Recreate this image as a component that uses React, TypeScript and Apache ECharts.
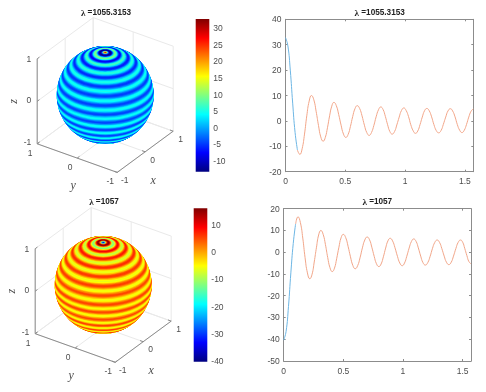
import React, { useEffect, useRef } from "react";
import * as echarts from "echarts";

const thetaA = [0,0.02,0.04,0.06,0.08,0.10,0.12,0.139,0.159,0.178,0.198,0.217,0.237,0.256,0.276,0.295,0.315,0.333,0.351,0.369,0.387,0.405,0.425,0.445,0.465,0.485,0.505,0.524,0.543,0.562,0.581,0.60,0.62,0.64,0.66,0.68,0.70,0.719,0.739,0.758,0.778,0.797,0.816,0.835,0.854,0.873,0.892,0.912,0.931,0.951,0.970,0.99,1.009,1.029,1.048,1.068,1.087,1.106,1.125,1.144,1.163,1.182,1.202,1.222,1.241,1.261,1.281,1.301,1.32,1.34,1.359,1.379,1.398,1.418,1.437,1.457,1.476,1.495,1.514,1.533,1.552,1.5708];
const valueA = [32.8,29.5,20,7,-4.5,-11.5,-13.2,-11,-5.2,2,7.8,10,8.3,3.8,-1.8,-6.3,-8,-6.5,-2.7,2,5.8,7.3,6,2.5,-1.7,-5.2,-6.5,-5.3,-2.2,1.7,4.8,6,4.9,2,-1.7,-4.6,-5.7,-4.6,-1.8,1.6,4.4,5.5,4.5,1.8,-1.5,-4.2,-5.2,-4.2,-1.6,1.5,4.1,5.1,4.1,1.7,-1.5,-3.9,-4.9,-4,-1.5,1.5,4,4.9,4,1.6,-1.4,-3.8,-4.7,-3.8,-1.4,1.5,3.9,4.8,3.9,1.6,-1.4,-3.7,-4.6,-3.7,-1.4,1.5,3.8,4.7];
const thetaB = [0,0.02,0.04,0.06,0.08,0.10,0.12,0.14,0.16,0.179,0.199,0.219,0.238,0.256,0.275,0.293,0.312,0.331,0.35,0.369,0.388,0.407,0.426,0.444,0.463,0.481,0.50,0.52,0.54,0.56,0.58,0.60,0.62,0.64,0.66,0.68,0.70,0.72,0.739,0.759,0.778,0.798,0.817,0.836,0.855,0.874,0.893,0.913,0.933,0.954,0.974,0.994,1.013,1.032,1.052,1.071,1.09,1.11,1.129,1.149,1.168,1.188,1.208,1.228,1.247,1.267,1.287,1.307,1.326,1.346,1.365,1.385,1.405,1.424,1.444,1.463,1.483,1.501,1.518,1.536,1.553,1.5708];
const valueB = [-40.4,-36.4,-25,-9.5,4,13,16.3,13.6,6.5,-2.4,-9.5,-12.2,-10.1,-4.5,2.3,7.9,10,8.2,3.5,-2.4,-7.1,-8.9,-7.3,-3,2.3,6.6,8.2,6.7,2.7,-2.1,-6.1,-7.6,-6.2,-2.6,2,5.6,7,5.7,2.3,-1.9,-5.3,-6.6,-5.4,-2.1,1.9,5.2,6.4,5.2,2.1,-1.9,-5,-6.2,-5,-1.9,1.9,4.9,6.1,5,2,-1.8,-4.8,-5.9,-4.8,-1.9,1.6,4.5,5.6,4.5,1.7,-1.8,-4.6,-5.7,-4.6,-1.8,1.7,4.5,5.6,4.6,1.8,-1.5,-4.3,-5.3];

const titleA = "1055.3153";
const titleB = "1057";
const lineTicksX = [0, 0.5, 1, 1.5];
const barTicksA = [-10, -5, 0, 5, 10, 15, 20, 25, 30];
const barTicksB = [-40, -30, -20, -10, 0, 10];
const ticks3D = [-1, 0, 1];
const jet = ["#000080", "#0000ff", "#0080ff", "#00ffff", "#80ff80", "#ffff00", "#ff8000", "#ff0000", "#800000"];

const BLUE = "#6db6e4";
const ORANGE = "#f2a689";
const TEXT = "#4d4d4d";
const AXIS = "#8c8c8c";
const FONT = '"Liberation Sans", Arial, sans-serif';
const R = 48.5;
const SPLIT = 0.1;

// oblique view of the unit box, in sphere radii
const project = (x: number, y: number, z: number) => [
  (x * 28 - y * 40) / R,
  (x * 20.6 + y * 14.3 + z * 42.5) / R,
];

function discs(theta: number[], value: number[]) {
  const out: number[][] = [];
  for (let i = 1; i < theta.length; i++) out.push([0, (-Math.cos(theta[i]) * 42.5) / R, Math.sin(theta[i]), value[i]]);
  for (let i = theta.length - 1; i >= 1; i--) out.push([0, (Math.cos(theta[i]) * 42.5) / R, Math.sin(theta[i]), value[i]]);
  return out;
}

function boxSegments() {
  const s: number[][] = [];
  for (const t of ticks3D) {
    s.push([t, -1, -1, t, 1, -1, 0], [-1, t, -1, 1, t, -1, 0]); // floor
    s.push([1, t, -1, 1, t, 1, 0], [1, -1, t, 1, 1, t, 0]); // wall x=1
    s.push([t, 1, -1, t, 1, 1, 0], [-1, 1, t, 1, 1, t, 0]); // wall y=1
  }
  s.push([-1, 1, -1, -1, 1, 1, 1], [-1, 1, -1, -1, -1, -1, 1], [-1, -1, -1, 1, -1, -1, 1]);
  for (const t of ticks3D) {
    s.push([-1, 1, t, -0.92, 1, t, 1], [-1, t, -1, -0.92, t, -1, 1], [t, -1, -1, t, -0.92, -1, 1]);
  }
  return s;
}

function label3D() {
  const l: { p: number[]; text: string; dx: number; dy: number; align: string; font: string; rot?: number }[] = [];
  const f = `8.5px ${FONT}`;
  const serif = 'italic 12px "Liberation Serif", serif';
  for (const t of ticks3D) {
    l.push({ p: [-1, 1, t], text: String(t), dx: -6, dy: t === -1 ? -2 : t === 0 ? -1 : 0, align: "right", font: f });
    l.push({ p: [-1, t, -1], text: String(t), dx: -7, dy: 8.8, align: "center", font: f });
    l.push({ p: [t, -1, -1], text: String(t), dx: 7.5, dy: 7.7, align: "center", font: f });
  }
  l.push({ p: [0, -1, -1], text: "x", dx: 8, dy: 28, align: "center", font: serif });
  l.push({ p: [-1, 0, -1], text: "y", dx: -4, dy: 26.5, align: "center", font: serif });
  l.push({ p: [-1, 1, 0], text: "z", dx: -24, dy: 0, align: "center", font: serif, rot: Math.PI / 2 });
  return l;
}

function titleOf(cx: number, top: number, num: string) {
  return {
    text: `{l|λ}{b| =${num}}`,
    left: cx,
    top,
    textAlign: "center",
    padding: 0,
    textStyle: {
      rich: {
        l: { fontFamily: '"Liberation Serif", serif', fontSize: 9, color: "#222" },
        b: { fontFamily: FONT, fontSize: 8.2, fontWeight: "bold", color: "#222" },
      },
    },
  };
}

function buildOption() {
  const grid: any[] = [];
  const xAxis: any[] = [];
  const yAxis: any[] = [];
  const series: any[] = [];
  const visualMap: any[] = [];

  const addLine = (L: number, T: number, Rt: number, B: number, yMin: number, yMax: number, xs: number[], ys: number[]) => {
    const g = grid.length;
    grid.push({ left: L, top: T, width: Rt - L, height: B - T });
    const xBase = { type: "value", gridIndex: g, min: 0, max: 1.5708, splitLine: { show: false }, axisLine: { show: true, onZero: false, lineStyle: { color: AXIS, width: 1 } }, axisTick: { show: true, inside: true, length: 2, lineStyle: { color: AXIS }, customValues: lineTicksX } };
    const xi = xAxis.length;
    xAxis.push({ ...xBase, position: "bottom", axisLabel: { customValues: lineTicksX, color: TEXT, fontSize: 8.5, fontFamily: FONT, margin: 5 } });
    xAxis.push({ ...xBase, position: "top", axisLabel: { show: false } });
    const yBase = { type: "value", gridIndex: g, min: yMin, max: yMax, interval: 10, splitLine: { show: false }, axisLine: { show: true, onZero: false, lineStyle: { color: AXIS, width: 1 } }, axisTick: { show: true, inside: true, length: 2, lineStyle: { color: AXIS } } };
    const yi = yAxis.length;
    yAxis.push({ ...yBase, position: "left", axisLabel: { color: TEXT, fontSize: 8.5, fontFamily: FONT, margin: 4 } });
    yAxis.push({ ...yBase, position: "right", axisLabel: { show: false } });
    const pts = xs.map((x, i) => [x, ys[i]]);
    const common = { type: "line", xAxisIndex: xi, yAxisIndex: yi, symbol: "none", smooth: true, z: 3 };
    series.push({ ...common, data: pts.filter((p) => p[0] <= SPLIT), lineStyle: { color: BLUE, width: 1 } });
    series.push({ ...common, data: pts.filter((p) => p[0] >= SPLIT), lineStyle: { color: ORANGE, width: 1 } });
  };

  const addBar = (L: number, T: number, H: number, vMin: number, vMax: number, ticks: number[]) => {
    const g = grid.length;
    grid.push({ left: L, top: T, width: 13.6, height: H });
    const xi = xAxis.length;
    xAxis.push({ type: "value", gridIndex: g, min: 0, max: 1, show: false });
    const yi = yAxis.length;
    yAxis.push({
      type: "value", gridIndex: g, min: vMin, max: vMax, position: "right", splitLine: { show: false },
      axisLine: { show: false },
      axisTick: { show: false, customValues: ticks },
      axisLabel: { customValues: ticks, color: TEXT, fontSize: 8.5, fontFamily: FONT, margin: 4 },
    });
    series.push({
      type: "custom", xAxisIndex: xi, yAxisIndex: yi, data: [[0, vMin, 1, vMax]],
      encode: { x: [0, 2], y: [1, 3] },
      renderItem: (_p: any, api: any) => {
        const a = api.coord([api.value(0), api.value(3)]);
        const b = api.coord([api.value(2), api.value(1)]);
        return {
          type: "rect",
          shape: { x: a[0], y: a[1], width: b[0] - a[0], height: b[1] - a[1] },
          style: { fill: new echarts.graphic.LinearGradient(0, 1, 0, 0, jet.map((color, i) => ({ offset: i / (jet.length - 1), color }))) },
        };
      },
    });
  };

  const addSphere = (cx: number, cy: number, theta: number[], value: number[], vMin: number, vMax: number) => {
    const g = grid.length;
    const W = 1.9;
    grid.push({ left: cx - W * R, top: cy - W * R, width: 2 * W * R, height: 2 * W * R });
    const xi = xAxis.length;
    xAxis.push({ type: "value", gridIndex: g, min: -W, max: W, show: false });
    const yi = yAxis.length;
    yAxis.push({ type: "value", gridIndex: g, min: -W, max: W, show: false });
    const segs = boxSegments();
    series.push({
      type: "custom", xAxisIndex: xi, yAxisIndex: yi, z: 2, data: segs.map((s) => ({ value: [0, 0, ...s] })),
      renderItem: (_p: any, api: any) => {
        const a = project(api.value(2), api.value(3), api.value(4));
        const b = project(api.value(5), api.value(6), api.value(7));
        const p = api.coord(a);
        const q = api.coord(b);
        return {
          type: "line", shape: { x1: p[0], y1: p[1], x2: q[0], y2: q[1] },
          style: { stroke: api.value(8) ? AXIS : "#e9e9e9", lineWidth: 1 },
          z2: api.value(8),
        };
      },
    });
    const sphereIndex = series.length;
    series.push({
      type: "custom", xAxisIndex: xi, yAxisIndex: yi, z: 3, data: discs(theta, value), encode: { x: 0, y: 1 },
      renderItem: (_p: any, api: any) => {
        const c = api.coord([api.value(0), api.value(1)]);
        const r = api.value(2) * R;
        return { type: "ellipse", shape: { cx: c[0], cy: c[1], rx: r, ry: r * 0.5 }, style: { fill: api.visual("color") } };
      },
    });
    visualMap.push({ show: false, type: "continuous", seriesIndex: sphereIndex, dimension: 3, min: vMin, max: vMax, inRange: { color: jet } });
    const labels = label3D();
    series.push({
      type: "custom", xAxisIndex: xi, yAxisIndex: yi, z: 4,
      data: labels.map((l) => project(l.p[0], l.p[1], l.p[2])),
      renderItem: (params: any, api: any) => {
        const l = labels[params.dataIndex];
        const c = api.coord([api.value(0), api.value(1)]);
        return {
          type: "text", x: c[0] + l.dx, y: c[1] + l.dy, rotation: l.rot || 0,
          style: { text: l.text, font: l.font, fill: TEXT, align: l.align, verticalAlign: "middle" },
        };
      },
    });
  };

  addLine(285.5, 19.3, 473.3, 171.7, -20, 40, thetaA, valueA);
  addLine(283.7, 208.7, 471, 361, -50, 20, thetaB, valueB);
  addBar(195.7, 19, 152.7, -13.2, 32.8, barTicksA);
  addBar(193.7, 208.3, 153.4, -40.4, 16.3, barTicksB);
  addSphere(105.2, 95, thetaA, valueA, -13.2, 32.8);
  addSphere(103.2, 284.9, thetaB, valueB, -40.4, 16.3);

  return {
    animation: false,
    backgroundColor: "#fff",
    title: [titleOf(106, 8, titleA), titleOf(379.7, 8, titleA), titleOf(104, 197, titleB), titleOf(377.3, 197, titleB)],
    grid,
    xAxis,
    yAxis,
    visualMap,
    series,
  };
}

export default function App() {
  const ref = useRef<HTMLDivElement>(null);
  useEffect(() => {
    const chart = echarts.init(ref.current!, undefined, { renderer: "svg" });
    chart.setOption(buildOption() as any);
    return () => chart.dispose();
  }, []);
  return <div ref={ref} style={{ position: "fixed", left: 0, top: 0, width: 486, height: 392, filter: "blur(0.4px)" }} />;
}
